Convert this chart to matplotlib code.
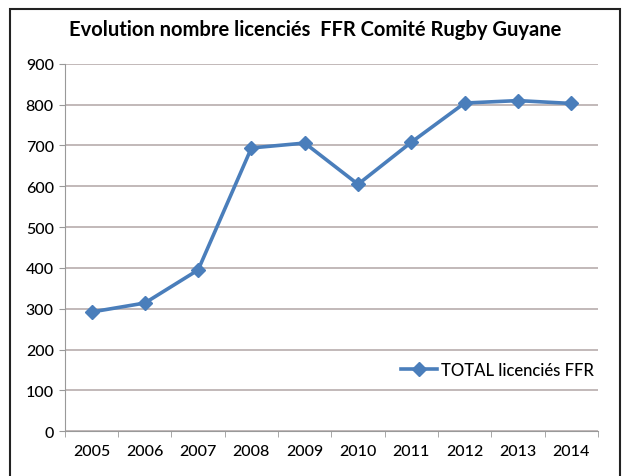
import matplotlib.pyplot as plt
from matplotlib.patches import Rectangle

plt.rcParams['font.family'] = ['Lato', 'DejaVu Sans']

years = ['2005', '2006', '2007', '2008', '2009', '2010', '2011', '2012', '2013', '2014']
licencies = [292, 314, 395, 694, 706, 605, 708, 804, 810, 803]

fig = plt.figure(figsize=(6.3, 4.77), dpi=100)
ax = fig.add_axes([0.103, 0.094, 0.846, 0.77])

x = range(len(years))
ax.plot(x, licencies, color='#4a7ebb', lw=2.6, marker='D', ms=7.5,
        label='TOTAL licenciés FFR')

ax.set_xlim(-0.5, len(years) - 0.5)
ax.set_ylim(0, 900)
ax.set_yticks(range(0, 901, 100))
ax.set_xticks(list(x))
ax.set_xticklabels(years)
ax.set_xticks([i - 0.5 for i in range(len(years) + 1)], minor=True)
ax.tick_params(axis='x', which='major', length=0, labelsize=11.5, pad=9)
ax.tick_params(axis='x', which='minor', length=4, color='#999999', direction='out')
ax.tick_params(axis='y', length=4, color='#999999', labelsize=11.5, pad=4)
for lbl in ax.get_xticklabels() + ax.get_yticklabels():
    lbl.set_fontweight('medium')

ax.grid(axis='y', color='#bdb3b3', lw=1.3)
ax.set_axisbelow(True)
for s in ['top', 'right']:
    ax.spines[s].set_visible(False)
ax.spines['left'].set_color('#999999')
ax.spines['bottom'].set_color('#999999')

ax.legend(loc='center right', bbox_to_anchor=(1.02, 0.167), frameon=False,
          prop={'size': 12, 'weight': 'medium'}, handlelength=2.2, handletextpad=0.2)

fig.text(0.5, 0.937, 'Evolution nombre licenciés  FFR Comité Rugby Guyane',
         ha='center', va='center', fontsize=14.5, fontweight='bold')

fig.patches.append(Rectangle((0.016, -0.05), 0.968, 1.029, transform=fig.transFigure,
                             fill=False, edgecolor='#222222', lw=1.5))

fig.savefig('out.png', dpi=100)
